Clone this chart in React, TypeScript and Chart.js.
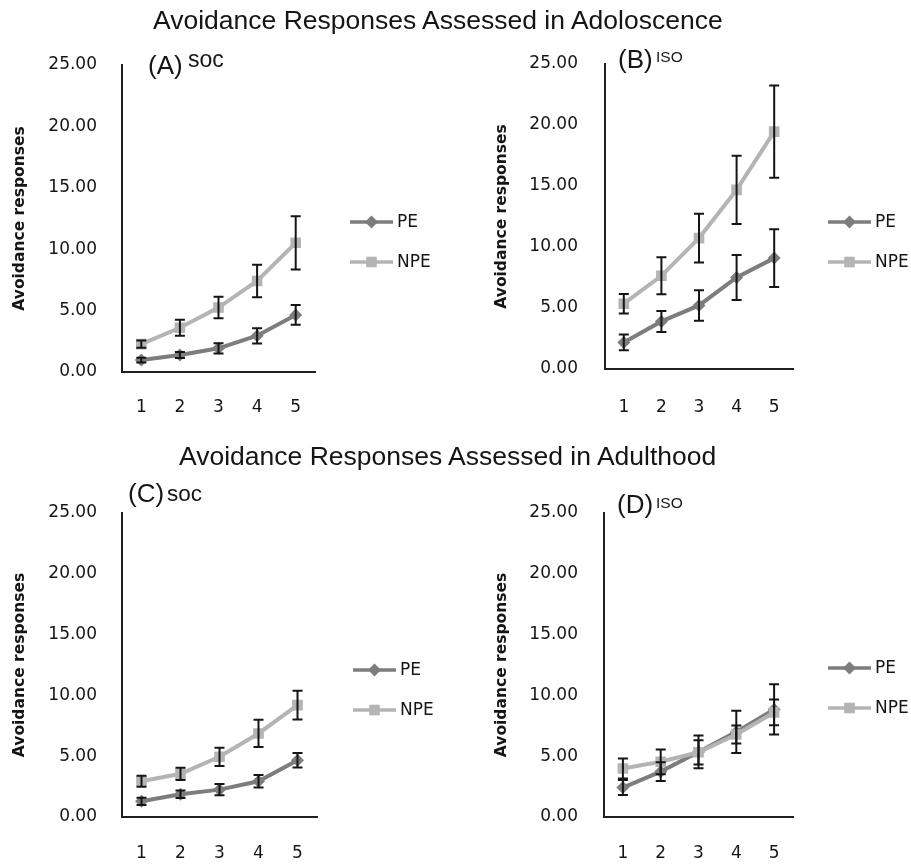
import React, { useEffect, useRef } from 'react';
import { Chart, registerables } from 'chart.js';

Chart.register(...registerables);

// ---------- data ----------
const sessions = ['1', '2', '3', '4', '5'];
const yTickValues = [0, 5, 10, 15, 20, 25];
const seriesNames = ['PE', 'NPE'];
const mainTitles = [
  'Avoidance Responses Assessed in Adoloscence',
  'Avoidance Responses Assessed in Adulthood',
];
const yAxisTitle = 'Avoidance responses';

const peA = [0.97, 1.38, 1.93, 2.95, 4.65];
const peAErr = [0.2, 0.25, 0.42, 0.62, 0.8];
const npeA = [2.27, 3.6, 5.25, 7.41, 10.52];
const npeAErr = [0.3, 0.65, 0.88, 1.32, 2.17];

const peB = [2.18, 3.9, 5.21, 7.5, 9.09];
const peBErr = [0.64, 0.86, 1.25, 1.84, 2.36];
const npeB = [5.35, 7.64, 10.73, 14.68, 19.46];
const npeBErr = [0.8, 1.52, 2.0, 2.8, 3.78];

const peC = [1.29, 1.87, 2.25, 2.94, 4.67];
const peCErr = [0.3, 0.3, 0.47, 0.52, 0.59];
const npeC = [2.94, 3.55, 4.95, 6.87, 9.2];
const npeCErr = [0.45, 0.5, 0.75, 1.12, 1.18];

const peD = [2.42, 3.73, 5.35, 7.0, 8.85];
const peDErr = [0.62, 0.77, 1.35, 1.74, 2.06];
const npeD = [3.99, 4.54, 5.32, 6.78, 8.6];
const npeDErr = [0.82, 1.02, 1.0, 0.74, 1.06];

// ---------- styles ----------
const PE_COLOR = '#7d7d7d';
const NPE_COLOR = '#b4b4b4';
const AXIS_COLOR = '#202020';
const TEXT_COLOR = '#151515';
const TICK_FONT = { family: 'DejaVu Sans', size: 17 };

type Panel = {
  letter: string;
  group: string;
  pe: number[];
  peErr: number[];
  npe: number[];
  npeErr: number[];
  box: { left: number; top: number; width: number; height: number };
  area: { left: number; top: number; right: number; bottom: number };
  yTitleX: number;
  yTickPad: number;
  xTickPad: number;
  letterPos: [number, number];
  groupPos: [number, number, number];
  legend: { x: number; y0: number; y1: number };
};

const panels: Panel[] = [
  {
    letter: '(A)', group: 'soc', pe: peA, peErr: peAErr, npe: npeA, npeErr: npeAErr,
    box: { left: 0, top: 0, width: 455, height: 430 },
    area: { left: 122, top: 65, right: 315, bottom: 372 },
    yTitleX: 20, yTickPad: 25, xTickPad: 25,
    letterPos: [148, 74], groupPos: [188, 67, 23],
    legend: { x: 350, y0: 222, y1: 262 },
  },
  {
    letter: '(B)', group: 'ISO', pe: peB, peErr: peBErr, npe: npeB, npeErr: npeBErr,
    box: { left: 455, top: 0, width: 456, height: 430 },
    area: { left: 150, top: 64, right: 338, bottom: 369 },
    yTitleX: 47, yTickPad: 27, xTickPad: 28,
    letterPos: [163, 68], groupPos: [201, 62, 15.5],
    legend: { x: 373, y0: 222, y1: 262 },
  },
  {
    letter: '(C)', group: 'soc', pe: peC, peErr: peCErr, npe: npeC, npeErr: npeCErr,
    box: { left: 0, top: 430, width: 455, height: 434 },
    area: { left: 122, top: 83, right: 317, bottom: 387 },
    yTitleX: 20, yTickPad: 25, xTickPad: 26,
    letterPos: [128, 71.5], groupPos: [167, 71, 22.5],
    legend: { x: 353, y0: 240, y1: 280 },
  },
  {
    letter: '(D)', group: 'ISO', pe: peD, peErr: peDErr, npe: npeD, npeErr: npeDErr,
    box: { left: 455, top: 430, width: 456, height: 434 },
    area: { left: 149, top: 83, right: 338, bottom: 387 },
    yTitleX: 47, yTickPad: 26, xTickPad: 26,
    letterPos: [162, 83], groupPos: [201, 78, 15.5],
    legend: { x: 373, y0: 238, y1: 278 },
  },
];

function drawMarker(ctx: CanvasRenderingContext2D, style: string, x: number, y: number, r: number, color: string) {
  ctx.fillStyle = color;
  ctx.beginPath();
  if (style === 'rectRot') {
    ctx.moveTo(x, y - r);
    ctx.lineTo(x + r, y);
    ctx.lineTo(x, y + r);
    ctx.lineTo(x - r, y);
    ctx.closePath();
  } else {
    const s = r * Math.SQRT1_2;
    ctx.rect(x - s, y - s, 2 * s, 2 * s);
  }
  ctx.fill();
}

const errorBarPlugin = {
  id: 'errorBars',
  afterDatasetsDraw(chart: any) {
    const ctx = chart.ctx as CanvasRenderingContext2D;
    const yScale = chart.scales.y;
    ctx.save();
    ctx.strokeStyle = '#151515';
    ctx.lineWidth = 2;
    chart.data.datasets.forEach((ds: any, i: number) => {
      const meta = chart.getDatasetMeta(i);
      meta.data.forEach((pt: any, j: number) => {
        const v = ds.data[j];
        const e = ds.errors[j];
        const top = yScale.getPixelForValue(v + e);
        const bot = yScale.getPixelForValue(v - e);
        ctx.beginPath();
        ctx.moveTo(pt.x, top);
        ctx.lineTo(pt.x, bot);
        ctx.moveTo(pt.x - 5, top);
        ctx.lineTo(pt.x + 5, top);
        ctx.moveTo(pt.x - 5, bot);
        ctx.lineTo(pt.x + 5, bot);
        ctx.stroke();
      });
    });
    ctx.restore();
  },
};

function makeDecorPlugin(p: Panel) {
  return {
    id: 'decor',
    afterDraw(chart: any) {
      const ctx = chart.ctx as CanvasRenderingContext2D;
      ctx.save();
      // legend
      const ys = [p.legend.y0, p.legend.y1];
      chart.data.datasets.forEach((ds: any, i: number) => {
        const y = ys[i];
        const x0 = p.legend.x;
        ctx.strokeStyle = ds.borderColor;
        ctx.lineWidth = 3.5;
        ctx.beginPath();
        ctx.moveTo(x0, y);
        ctx.lineTo(x0 + 43, y);
        ctx.stroke();
        drawMarker(ctx, ds.pointStyle, x0 + 21.5, y, ds.pointRadius, ds.borderColor);
        ctx.fillStyle = TEXT_COLOR;
        ctx.font = '17px "DejaVu Sans"';
        ctx.textAlign = 'left';
        ctx.textBaseline = 'middle';
        ctx.fillText(ds.label, x0 + 47, y + 1);
      });
      // panel labels
      ctx.fillStyle = TEXT_COLOR;
      ctx.textBaseline = 'alphabetic';
      ctx.font = '26px "Liberation Sans"';
      ctx.fillText(p.letter, p.letterPos[0], p.letterPos[1]);
      ctx.font = `${p.groupPos[2]}px "Liberation Sans"`;
      ctx.fillText(p.group, p.groupPos[0], p.groupPos[1]);
      ctx.restore();
    },
  };
}

function PanelChart({ p }: { p: Panel }) {
  const ref = useRef<HTMLCanvasElement | null>(null);
  useEffect(() => {
    if (!ref.current) return;
    const chart = new Chart(ref.current, {
      type: 'line',
      data: {
        labels: sessions,
        datasets: [
          {
            label: seriesNames[0],
            data: p.pe,
            errors: p.peErr,
            borderColor: PE_COLOR,
            backgroundColor: PE_COLOR,
            borderWidth: 4,
            pointStyle: 'rectRot',
            pointRadius: 6.5,
            pointBackgroundColor: PE_COLOR,
            pointBorderColor: PE_COLOR,
            pointBorderWidth: 0,
            tension: 0,
            order: 2,
          } as any,
          {
            label: seriesNames[1],
            data: p.npe,
            errors: p.npeErr,
            borderColor: NPE_COLOR,
            backgroundColor: NPE_COLOR,
            borderWidth: 4,
            pointStyle: 'rect',
            pointRadius: 7.5,
            pointBackgroundColor: NPE_COLOR,
            pointBorderColor: NPE_COLOR,
            pointBorderWidth: 0,
            tension: 0,
            order: 1,
          } as any,
        ],
      },
      options: {
        animation: false,
        responsive: false,
        maintainAspectRatio: false,
        events: [],
        layout: {
          padding: { left: 0, top: p.area.top, right: p.box.width - p.area.right, bottom: 0 },
        },
        plugins: {
          legend: { display: false },
          tooltip: { enabled: false },
          title: { display: false },
        },
        scales: {
          x: {
            type: 'category',
            offset: true,
            grid: { display: false, drawTicks: false },
            border: { display: true, color: AXIS_COLOR, width: 2 },
            ticks: {
              color: TEXT_COLOR,
              font: TICK_FONT,
              padding: p.xTickPad,
              maxRotation: 0,
              autoSkip: false,
            },
            afterFit: (s: any) => {
              s.height = p.box.height - p.area.bottom;
            },
          },
          y: {
            min: 0,
            max: 25,
            grid: { display: false, drawTicks: false },
            border: { display: true, color: AXIS_COLOR, width: 2 },
            afterBuildTicks: (s: any) => {
              s.ticks = yTickValues.map((v) => ({ value: v }));
            },
            ticks: {
              color: TEXT_COLOR,
              font: TICK_FONT,
              padding: p.yTickPad,
              callback: (v: any) => Number(v).toFixed(2),
            },
            title: {
              display: true,
              text: yAxisTitle,
              color: TEXT_COLOR,
              font: { family: 'DejaVu Sans', size: 15.5, weight: 'bold' },
              padding: { top: p.yTitleX - 9.3, bottom: 0 },
            },
            afterFit: (s: any) => {
              s.width = p.area.left;
            },
          },
        },
      } as any,
      plugins: [errorBarPlugin, makeDecorPlugin(p)],
    });
    return () => chart.destroy();
  }, [p]);
  return (
    <canvas
      ref={ref}
      width={p.box.width}
      height={p.box.height}
      style={{
        position: 'absolute',
        left: p.box.left,
        top: p.box.top,
        width: p.box.width,
        height: p.box.height,
      }}
    />
  );
}

const titleStyle: React.CSSProperties = {
  position: 'absolute',
  fontFamily: '"Liberation Sans", Arial, sans-serif',
  fontSize: '26.5px',
  lineHeight: '30px',
  whiteSpace: 'nowrap',
  color: TEXT_COLOR,
  zIndex: 2,
};

export default function App() {
  return (
    <div style={{ position: 'absolute', left: 0, top: 0, width: 911, height: 864, background: '#fff', overflow: 'hidden' }}>
      {panels.map((p) => (
        <PanelChart key={p.letter} p={p} />
      ))}
      <div style={{ ...titleStyle, left: 153, top: 4.8 }}>{mainTitles[0]}</div>
      <div style={{ ...titleStyle, left: 179, top: 440.8 }}>{mainTitles[1]}</div>
    </div>
  );
}
